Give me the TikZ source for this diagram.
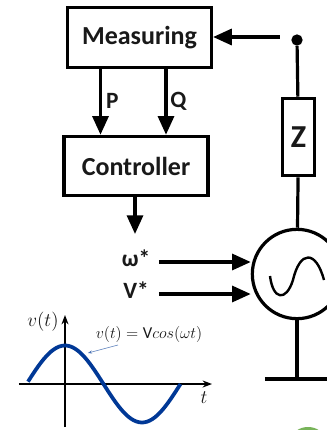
\documentclass[tikz,border=0pt]{standalone}
\usepackage{fontspec}
\setmainfont{Carlito}
\usetikzlibrary{positioning,shapes.geometric,arrows.meta}
\definecolor{wavecolor}{RGB}{0,56,150}
\definecolor{leafcolor}{RGB}{120,180,90}
\tikzset{
  block/.style={draw,rectangle,line width=2.4pt,inner sep=0pt,align=center,font=\bfseries\fontsize{19.5}{22}\selectfont,text=black!90},
  lab/.style={inner sep=0pt,font=\bfseries\fontsize{17.5}{19}\selectfont,text=black!90},
  wire/.style={line width=2.4pt},
  sig/.style={line width=2.4pt,-{Triangle[length=14pt,width=12pt]}},
  mlab/.style={inner sep=0pt,text=black!90}
}
\begin{document}
\begin{tikzpicture}[x=0.75pt,y=-0.75pt,>=Stealth]
\useasboundingbox (0,0) rectangle (327,430);
\clip (0,0) rectangle (327,430);
\fill[white] (0,0) rectangle (327,430);
\node[block,minimum width=108pt,minimum height=44.5pt] (measuring) at (139.5,37.5) {Measuring};
\node[block,minimum width=108pt,minimum height=44.5pt] (controller) at (136,166) {Controller};
\node[block,minimum width=24pt,minimum height=58pt,font=\bfseries\fontsize{24}{26}\selectfont] (z) at (298.5,137) {Z};
\node[draw,circle,line width=2.4pt,minimum size=67pt,inner sep=0pt] (gen) at (297,274) {};
\node[fill=black,circle,minimum size=8.5pt,inner sep=0pt] (dot) at (297,40) {};
\coordinate (fb) at (280,37);
\coordinate (gnd) at (297,379);
\coordinate (gndl) at (265,379);
\coordinate (gndr) at (327,379);
\coordinate (pout) at (measuring.south -| 100.5,0);
\coordinate (pin) at (controller.north -| 100.5,0);
\coordinate (qout) at (measuring.south -| 166,0);
\coordinate (qin) at (controller.north -| 166,0);
\coordinate (cout) at (controller.south -| 135,0);
\coordinate (cend) at (135,234);
\coordinate (wstart) at (159,262);
\coordinate (vstart) at (159,294);
\draw[wire] (dot) -- (z);
\draw[wire] (z) -- (gen);
\draw[wire] (gen) -- (gnd);
\draw[wire] (gndl) -- (gndr);
\draw[sig] (fb) -- (measuring.east |- fb);
\draw[sig] (pout) -- (pin);
\draw[sig] (qout) -- (qin);
\draw[sig] (cout) -- (cend);
\draw[sig] (wstart) -- (gen.west |- wstart);
\draw[sig] (vstart) -- (gen.west |- vstart);
\draw[line width=1.8pt] (270,276) .. controls (273,300) and (286,302) .. (293,280) .. controls (300,250) and (316,250) .. (324,280);
\node[lab,right=4pt of pin,yshift=25pt] (plabel) {P};
\node[lab,right=3pt of qin,yshift=25pt] (qlabel) {Q};
\node[lab] (wlabel) at (136,258) {ω*};
\node[lab] (vlabel) at (136,290) {V*};
% time plot
\coordinate (xa) at (19,384);
\coordinate (xb) at (212,384);
\coordinate (ya) at (65,427);
\coordinate (yb) at (65,315);
\draw[line width=0.9pt,->] (xa) -- (xb);
\draw[line width=0.9pt,->] (ya) -- (yb);
\draw[wavecolor,line width=2.8pt,domain=28:180.5,samples=60] plot (\x,{384-38.5*cos((\x-65)*2.3377)});
\node[mlab,font=\fontsize{14}{16}\selectfont] (vaxis) at (43,322) {$v(t)$};
\node[mlab,font=\fontsize{14}{16}\selectfont] (tlabel) at (204,398) {$t$};
\node[mlab,font=\fontsize{12.5}{14}\selectfont] (eq) at (149,334) {$v(t)=\mathrm{V}cos(\omega t)$};
\coordinate (eqend) at (118,345);
\coordinate (wavept) at (88,353);
\draw[wavecolor!70,line width=0.4pt,-{Stealth[length=3pt]}] (eqend) -- (wavept);
\fill[leafcolor] (308,439) ellipse (16 and 12);
\end{tikzpicture}
\end{document}
